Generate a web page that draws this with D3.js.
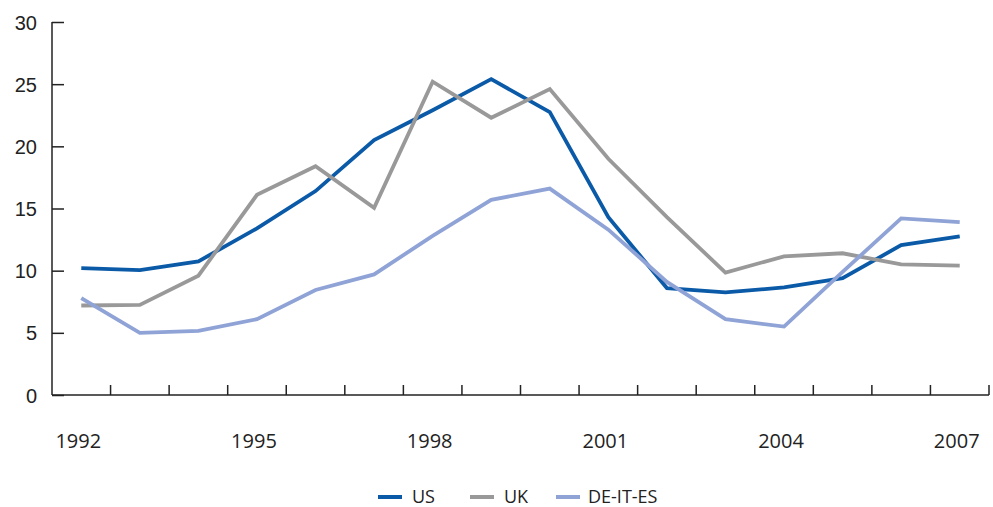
<!DOCTYPE html>
<html>
<head>
<meta charset="utf-8">
<script src="https://cdn.jsdelivr.net/npm/d3@7"></script>
<style>
  body { margin: 0; background: #fff; }
  svg { font-family: "Open Sans", "Noto Sans", sans-serif; }
  .axis path, .axis line { stroke: #222; stroke-width: 1.5; }
  .axis text { fill: #222; font-size: 20px; }
</style>
</head>
<body>
<svg width="993" height="507"></svg>
<script>
// data
var years = [1992, 1993, 1994, 1995, 1996, 1997, 1998, 1999, 2000, 2001, 2002, 2003, 2004, 2005, 2006, 2007];
var us     = [10.2, 10.05, 10.75, 13.4, 16.4, 20.5, 22.9, 25.4, 22.75, 14.3, 8.6, 8.25, 8.65, 9.4, 12.05, 12.75];
var uk     = [7.2, 7.25, 9.6, 16.1, 18.4, 15.05, 25.2, 22.3, 24.6, 19.0, 14.3, 9.85, 11.15, 11.4, 10.5, 10.4];
var deItEs = [7.8, 5.0, 5.15, 6.1, 8.45, 9.7, 12.8, 15.7, 16.6, 13.3, 9.1, 6.1, 5.5, 9.9, 14.2, 13.9];
var yTicks = [0, 5, 10, 15, 20, 25, 30];
var xLabels = [1992, 1995, 1998, 2001, 2004, 2007];

var seriesNames = ["US", "UK", "DE-IT-ES"];
var seriesColors = ["#0a5aa8", "#999999", "#8fa3d6"];
var seriesData = [us, uk, deItEs];

var svg = d3.select("svg"),
    margin = {top: 22, right: 4, bottom: 112, left: 52},
    width = +svg.attr("width") - margin.left - margin.right,
    height = +svg.attr("height") - margin.top - margin.bottom,
    g = svg.append("g").attr("transform", "translate(" + margin.left + "," + margin.top + ")");

var x = d3.scaleBand()
    .domain(years)
    .range([0, width]);

var y = d3.scaleLinear()
    .domain([0, 30])
    .range([height, 0]);

// y axis, ticks point inward
var yAxis = g.append("g")
    .attr("class", "axis")
    .call(d3.axisRight(y).tickValues(yTicks).tickSize(12).tickSizeOuter(0));
yAxis.select(".domain").attr("d", "M0," + height + "V0");
yAxis.selectAll("text")
    .attr("x", -15)
    .attr("text-anchor", "end")
    .attr("dy", "0.35em");

// x axis: ticks at band edges, labels every third year
var xa = g.append("g")
    .attr("class", "axis")
    .attr("transform", "translate(0," + height + ")");
xa.append("line")
    .attr("x1", 0).attr("x2", width)
    .attr("y1", 0).attr("y2", 0);
xa.selectAll(".tk")
    .data(years)
    .enter().append("line")
      .attr("class", "tk")
      .attr("x1", function(d) { return x(d) + x.bandwidth(); })
      .attr("x2", function(d) { return x(d) + x.bandwidth(); })
      .attr("y1", 0)
      .attr("y2", -10);
xa.selectAll("text")
    .data(xLabels)
    .enter().append("text")
      .attr("x", function(d) { return x(d) + x.bandwidth() / 2 - 3; })
      .attr("y", 53)
      .attr("text-anchor", "middle")
      .text(function(d) { return d; });

var line = d3.line()
    .x(function(d, i) { return x(years[i]) + x.bandwidth() / 2; })
    .y(function(d) { return y(d); });

seriesData.forEach(function(s, k) {
  g.append("path")
      .datum(s)
      .attr("fill", "none")
      .attr("stroke", seriesColors[k])
      .attr("stroke-width", 3.8)
      .attr("stroke-linejoin", "miter")
      .attr("d", line);
});

// legend
var legendX = [378, 470, 556];
var legend = svg.append("g")
    .selectAll("g")
    .data(seriesNames)
    .enter().append("g")
      .attr("transform", function(d, i) { return "translate(" + legendX[i] + ",497)"; });

legend.append("line")
    .attr("x1", 0).attr("x2", 24)
    .attr("y1", 0).attr("y2", 0)
    .attr("stroke", function(d, i) { return seriesColors[i]; })
    .attr("stroke-width", 4);

legend.append("text")
    .attr("x", function(d, i) { return i == 2 ? 32 : 34; })
    .attr("y", 0)
    .attr("dy", "0.36em")
    .attr("font-size", 18)
    .attr("fill", "#222")
    .text(function(d) { return d; });
</script>
</body>
</html>
